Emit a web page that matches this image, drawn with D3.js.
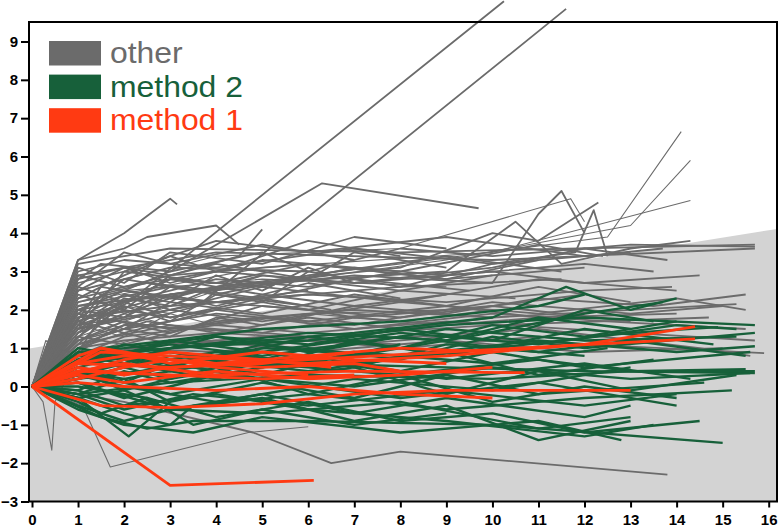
<!DOCTYPE html>
<html>
<head>
<meta charset="utf-8">
<script src="https://cdn.jsdelivr.net/npm/d3@7"></script>
<style>
  body { margin: 0; background: #fff; }
  svg { display: block; }
</style>
</head>
<body>
<svg id="chart" width="781" height="531"></svg>
<script>
// x ticks and y ticks
const xTicks = d3.range(0, 17);
const yTicks = d3.range(-3, 10);

// shaded band: top edge at x = -0.06 and x = 16.18
const shadeTop = [[-0.06, 0.99], [16.18, 4.11]];

// each line is a flat list x0,y0,x1,y1,...
const otherLines = [
  [0,0, 1,1.5, 2.1,2.2, 10.25,10.05],
  [0,0, 1,1.2, 2,1.6, 3.6,2.1, 11.6,9.85],
  [0,0, 1,3.3, 2,4.0, 3,4.9, 3.15,4.75],
  [0,0, 1,2.0, 3,3.0, 6.3,5.3, 9.7,4.65],
  [0,0, 1,3.2, 3,3.6, 8,3.5, 15.7,3.7],
  [0,0, 1,2.9, 4,3.5, 10,3.3, 15.7,3.6],
  [0,0, 1,2.7, 2,3.0, 4,3.8, 6,3.5, 9,3.9, 12,3.4, 13.7,3.6],
  [0,0, 1,1.6, 2,2.4, 3,2.0, 5,2.6, 8,2.2, 11,2.8, 14,2.5],
  [0,0, 1,1.1, 2,1.5, 4,1.9, 7,1.6, 10,2.2, 13,1.9, 15,2.1],
  [0,0, 1,2.4, 2,2.0, 3,2.9, 6,3.2, 9,2.8, 12,3.1],
  [0,0, 1,0.9, 1.5,1.8, 3,1.4, 5,2.1, 8,1.8, 12,2.4],
  [0,0, 1,3.0, 2,3.3, 4,3.1, 7,3.6, 10,3.2, 13,3.5],
  [0,0, 1,1.9, 2,2.8, 4,2.4, 6,2.9, 9,3.4, 11.5,3.0],
  [0,0, 1,1.4, 2,1.9, 3,2.3, 6,2.0, 8,2.5, 10.5,2.3],
  [0,0, 1,2.1, 3,2.6, 5,2.3, 7,2.8, 9.5,2.5],
  [0,0, 1,1.7, 2,2.2, 4,2.8, 6,2.6, 8,3.0],
  [0,0, 1,2.6, 2,3.5, 3,3.2, 5,3.7, 7,3.3],
  [0,0, 1,1.2, 2,1.7, 3,1.5, 5,1.8, 7,1.5, 10,1.9, 12.5,1.7, 15.5,1.5],
  [0,0, 1,0.8, 2,1.3, 4,1.6, 6,1.4, 9,1.7, 13,1.4, 15.7,1.2],
  [0,0, 1,1.5, 3,2.0, 5,1.7, 8,2.2, 11,1.9, 14,2.3, 15.5,2.0],
  [0,0, 1,2.3, 2,2.6, 4,3.0, 7,2.7, 10,3.1, 12,3.6, 13.8,3.3],
  [0,0, 1,1.0, 2,1.2, 4,1.4, 7,1.2, 11,1.5, 14.5,1.0, 15.6,0.8],
  [0,0, 1,1.8, 3,2.1, 6,2.4, 9,2.2, 12,2.5, 13.9,2.6],
  [0,0, 1,1.3, 2,1.1, 4,1.7, 7,2.0, 10,1.8, 13,2.0, 15.3,2.15],
  [0,0, 1,0.7, 3,1.2, 6,1.0, 9,1.3, 12,1.1, 15.9,0.87],
  [0,0, 1,1.1, 3,1.6, 6,1.3, 10,1.6, 14.7,1.8],
  [0,0, 1,2.0, 2,1.8, 3,2.4, 4,2.1, 6,2.7, 8,2.3],
  [0,0, 1,2.8, 2,3.1, 3,2.7, 5,3.3, 8,3.0, 11,3.7, 12.4,3.4],
  [0,0, 1,1.6, 2,2.0, 3,1.8, 5,2.3, 6.5,2.0],
  [0,0, 1,2.2, 2,2.5, 4,2.2, 6,2.5],
  [0,0, 1,1.4, 2,2.3, 3,2.1, 4,2.6],
  [0,0, 1,2.5, 2,3.1, 3,2.9, 4.5,3.4, 5,4.1],
  [0,0, 1,3.3, 2,3.6, 2.5,3.9, 4,4.2, 4.5,3.7],
  [0,0, 1,1.7, 3,2.4, 7,2.9, 10,2.7, 11,4.5, 11.5,5.1, 12,4.0],
  [0,0, 1,2.0, 4,2.6, 8,3.1, 10,4.0, 11,3.8, 12.3,4.8],
  [0,0, 1,1.2, 2,1.5, 3,1.3, 4,1.8, 5,1.6, 7,2.1, 9,1.9, 11,2.3, 13.5,2.1, 15.5,2.4],
  [0,0, 1,2.5, 3,3.1, 6,3.0, 8,3.6, 10,3.4, 13,3.7, 15.7,3.65],
  [0,0, 1,0.6, 2,1.0, 4,0.9, 6,1.2, 8,1.1],
  [0,0, 1,1.0, 2,1.6, 5,1.4, 7,1.8, 9,1.6, 12,1.9],
  [0,0, 1,1.9, 2,1.5, 3,2.2, 5,1.9, 7,2.4, 9,2.1, 11,2.6, 13,2.2],
  [0,0, 1,2.9, 2,2.6, 4,3.2, 6,2.8, 7,3.5, 9,3.1],
  [0,0, 1,1.5, 2,1.8, 3,2.6, 5,2.2, 6,3.0, 8,2.6, 11.5,2.8],
  [0,0, 1,2.3, 2,2.9, 3,3.4, 4,3.0, 6,3.8, 8,3.4],
  [0,0, 1,1.3, 2,2.1, 3,1.7, 4,2.4, 6,2.1],
  [0,0, 1,3.1, 2,2.7, 3,3.5, 5,3.2, 7,3.9, 9,3.6],
  [0,0, 1,1.8, 2,2.4, 3,2.2, 4,2.9, 5,2.5, 6,3.1, 7,2.7, 10,3.0, 12,2.7, 14.5,2.9],
  [0,0, 1,2.6, 2,2.2, 3,2.8, 5,2.6, 7,3.1, 9,2.9, 12,3.2, 13.5,3.0],
  [0,0, 1,1.6, 4,2.2, 8,2.6, 10,3.2, 11.8,3.5, 12.2,4.6, 12.5,3.4],
  [0,0, 1,2.1, 5,2.7, 9,3.0, 10.5,4.3, 11.5,3.2, 13,3.6, 14.3,3.8],
  [0,0, 2,-0.4, 4.8,-1.2, 6.5,-2.0, 8,-1.7, 13.8,-2.3],
  [0,0, 1.5,2.6, 3,2.3, 5,2.9, 8,2.5, 10,2.9],
  [0,0, 2,3.0, 4,2.7, 6,3.2, 9,2.8, 11,3.3],
  [0,0, 1.5,1.9, 3,2.8, 5,2.4, 7,2.1, 9,2.4],
  [0,0, 2,2.2, 3,1.8, 5,2.2, 7,1.8, 10,2.1, 13,1.7],
  [0,0, 1,1.0, 2,1.4, 3,1.1, 5,1.3, 8,1.0, 11,1.3, 13,1.1],
  [0,0, 1,0.8, 2,1.0, 4,1.2, 6,0.9, 9,1.2, 12,0.9, 15,1.0],
  [0,0, 1.5,2.4, 2.5,2.7, 4,2.5, 5,2.9],
  [0,0, 1,1.7, 2,1.4, 4,2.0, 6,1.7, 9,2.1, 11,1.8, 14,1.9],
  [0,0, 1,2.8, 1.5,3.2, 3,3.0, 5,3.5, 6,3.0],
  [0,0, 1.5,1.3, 2.5,1.7, 4,1.4, 6,1.8, 8,1.5, 10,1.8]
];

const otherThin = [
  [0,0, 1,1.8, 4,2.6, 8,3.2, 12.5,3.9, 14.1,6.65],
  [0,0, 1,1.3, 4,2.5, 9,3.3, 13,4.2, 14.3,5.9],
  [0,0, 1,2.2, 5,3.1, 10,3.5, 14.3,4.85],
  [0,0, 1,2.5, 4,3.4, 8,3.6, 11.7,4.9, 12,4.3],
  [0,0, 0.24,-0.4, 0.43,-1.66, 0.5,-0.4, 1,0.8, 3,1.5, 6,1.9, 9,2.0],
  [0,0, 1.1,-0.5, 1.7,-2.1, 4.7,-1.2, 6,-1.05],
  [0,0, 0.3,1.2, 0.6,0.9, 1,2.0, 2,2.5, 5,2.8, 9,2.6],
  [0,0, 0.6,0.9, 1,1.6, 2,1.3, 3,1.9, 4,1.6, 6,1.9, 8,1.7, 10,2.0],
  [0,0, 0.35,1.2, 0.7,0.7, 1,1.4, 2,1.9, 3,1.6],
  [0,0, 0.5,1.0, 1,1.9, 2,2.1, 3,1.9]
];

const method2Lines = [
  [0,0, 1,-0.3, 2.1,-1.3, 3,-0.4],
  [0,0, 1.5,-0.8, 2.5,-1.1, 3.5,-0.9, 6,-0.9, 10,-1.0, 15,-1.47],
  [0,0, 1,0.6, 2,0.9, 4,1.1, 7,1.4, 10,1.8, 11.6,2.6, 13,2.0, 14,2.3],
  [0,0, 1,0.7, 3,1.0, 6,1.2, 9,1.6, 12,1.8, 15.7,1.6],
  [0,0, 1,0.2, 3,0.5, 6,0.6, 9,0.5, 12,0.4, 15.7,0.35],
  [0,0, 1,-0.2, 3,0.1, 6,0.3, 10,0.2, 13,0.4, 15.5,0.45],
  [0,0, 1,0.5, 2,0.3, 4,0.8, 7,0.6, 10,1.0, 13,1.4, 14.9,1.55],
  [0,0, 1,-0.5, 2,-0.9, 3,-0.6, 5,-0.7, 8,-0.4, 11,-1.1, 13,-0.8],
  [0,0, 1,0.9, 2,0.7, 4,1.3, 6,0.9, 9,1.5, 12,1.2, 15.3,1.3],
  [0,0, 1,0.4, 3,-0.2, 5,0.2, 8,-0.3, 11,0.1, 14,-0.5],
  [0,0, 1,-0.1, 2,-0.5, 4,-0.2, 6,-0.6, 9,-0.9, 12,-1.3, 13.5,-1.0],
  [0,0, 1.5,1.0, 3,1.2, 5,1.5, 8,1.7, 11,2.1, 12,2.4],
  [0,0, 1,0.8, 3,0.6, 5,1.0, 8,0.8, 11,1.2, 14,0.9, 15.7,1.05],
  [0,0, 1,0.3, 2,0.7, 3,0.4, 5,0.9, 7,0.5, 9,1.1, 12,0.8],
  [0,0, 1,-0.3, 2,-0.7, 3,-1.0, 3.5,-0.5, 6,-0.2, 9,-0.6, 12,-0.3, 15.2,-0.1],
  [0,0, 1,0.1, 2,-0.3, 4,0.3, 7,0.0, 10,0.5, 13,0.2, 15.6,0.35],
  [0,0, 1,0.6, 2,1.1, 4,0.7, 6,1.3, 8,1.0, 10,1.6, 12,1.3, 14,1.7],
  [0,0, 1,-0.6, 2,-1.0, 3.5,-1.2, 5,-0.8, 8,-1.2, 11,-0.9, 12.8,-1.4],
  [0,0, 1,0.2, 3,0.8, 6,0.4, 9,0.9, 11,0.3, 13.5,0.7],
  [0,0, 1,0.7, 2,0.5, 4,0.9, 6,0.6, 8,1.1],
  [0,0, 1,-0.2, 2,0.2, 3,-0.4, 5,0.1, 7,-0.3, 9,0.3, 11,-0.2, 14.6,0.1],
  [0,0, 1.5,0.9, 3,0.5, 5,1.1, 7,0.8, 9.5,1.3, 12,1.9, 13.7,2.2],
  [0,0, 1,0.4, 2,-0.1, 4,0.5, 6,-0.2, 8,0.3, 10,-0.4, 12,0.0, 14,-0.3],
  [0,0, 1,0.1, 3,-0.6, 5,-0.3, 7,-0.9, 9,-0.5, 11,-1.4, 13,-0.9],
  [0,0, 1,0.5, 2,0.8, 4,0.4, 6,1.0, 8,0.7, 10,1.3, 12,1.0, 15.7,1.4],
  [0,0, 1,0.8, 2,0.6, 3,1.0, 6,1.4, 9,1.2, 11,1.8, 13,1.5],
  [0,0, 1,-0.4, 1.5,-0.7, 2.5,-0.3, 4,-0.8, 6,-0.4, 8,-0.9, 10,-0.7, 12,-1.2, 14.5,-0.9],
  [0,0, 1,0.3, 2,0.0, 4,-0.4, 7,0.2, 10,-0.1, 13,0.5],
  [0,0, 1,1.0, 2,0.8, 3,1.2, 5,0.9, 8,1.4, 11,1.1, 14,1.6, 15.3,1.5],
  [0,0, 1,0.0, 2.5,-0.3, 3.5,-1.0, 5,-0.6, 7,-1.0, 9,-0.7],
  [0,0, 1,0.2, 2,0.5, 3,0.2, 5,0.6, 8,0.3, 11,0.7, 13,0.4, 15.7,0.4],
  [0,0, 1,0.6, 3,0.9, 5,0.5, 7,1.2, 9,0.8, 12,1.5, 14.8,1.1],
  [0,0, 1,-0.1, 2,0.4, 3,0.1, 6,0.7, 9,0.2, 12,0.6, 14.3,0.2],
  [0,0, 1,0.4, 2,0.2, 4,0.6, 5,0.3, 7,0.9, 10,0.6, 12.5,1.0],
  [0,0, 1,-0.3, 2,-0.1, 3,-0.6, 5,-0.2, 7,-0.7, 9,-0.3, 12,-0.8, 13,-0.5],
  [0,0, 1,0.9, 2,1.0, 4,1.3, 6,1.1, 8,1.5, 10,1.2, 12,2.0, 13.5,1.7],
  [0,0, 1,0.5, 2,0.1, 3,0.6, 5,0.2, 7,0.5, 9,-0.2, 11,0.4, 13,-0.1, 15.3,0.3],
  [0,0, 1,-0.2, 2,-0.6, 3.5,-0.2, 6,-0.5, 9,-0.1, 12,-0.5, 14,-0.2],
  [0,0, 1,0.7, 3,1.1, 5,0.8, 8,1.3, 11,0.9, 13,1.2, 15.5,0.8],
  [0,0, 1,0.3, 2,0.6, 4,0.2, 6,0.8, 8,0.4, 10,0.9, 12,0.5, 15.6,0.9]
];

const method1Lines = [
  [0,0, 3,-2.58, 6.12,-2.45],
  [0,0, 1.5,-0.5, 3,-0.55, 5,-0.45, 7,-0.2, 9,-0.1, 13,-0.1],
  [0,0, 1.5,0.9, 3,0.8, 6,0.6, 9,0.8, 12,1.1, 14.4,1.56],
  [0,0, 1,0.6, 3,0.5, 6,0.7, 9,0.9, 14.4,1.24],
  [0,0, 1,0.4, 2,0.6, 4,0.3, 7,0.4, 10.7,0.36],
  [0,0, 1,0.2, 2,0.5, 3,0.7, 5,0.5, 7,0.6, 8,0.4],
  [0,0, 1,0.8, 1.5,1.0, 3,0.6, 5,0.9, 7,0.7, 9,0.6],
  [0,0, 1,0.3, 2,0.1, 4,0.4, 6,0.2, 8,0.3, 10,0.5],
  [0,0, 2,0.7, 3,0.9, 5,0.7, 6.5,0.5],
  [0,0, 1,0.5, 2,0.3, 3,0.5, 5,0.6, 7,0.9],
  [0,0, 1,0.1, 2,0.0, 4,-0.1, 6,0.0, 8,-0.2, 10,-0.3],
  [0,0, 1,0.6, 2,0.8, 4,0.6, 6,0.8, 8,1.0, 10,0.9],
  [0,0, 1.5,1.0, 2,0.9, 4,0.5, 6,0.3],
  [0,0, 1,0.4, 3,0.3, 5,0.2, 7,0.3]
];

const legendItems = ["other", "method 2", "method 1"];

const colors = { other: "#6b6b6b", method2: "#17603a", method1: "#ff3a12" };

const svg = d3.select("#chart");

// frame edges in pixels
const frame = { left: 29, right: 777, top: 22, bottom: 501.5 };

const xScale = d3.scaleLinear().domain([0, 16]).range([32, 768.7]);
const yScale = d3.scaleLinear().domain([-3, 9]).range([501.5, 41.5]);

const toPoints = (arr) => d3.range(0, arr.length, 2).map((i) => [arr[i], arr[i + 1]]);

const line = d3
  .line()
  .x((d) => xScale(d[0]))
  .y((d) => yScale(d[1]));

// shaded region below the sloping edge
const xl = xScale.invert(frame.left);
const xr = xScale.invert(frame.right);
const yb = yScale.invert(frame.bottom);
svg
  .append("path")
  .attr("d", line([shadeTop[0], shadeTop[1], [xr, yb], [xl, yb]]) + "Z")
  .attr("fill", "#d3d3d3");

// series
const drawSet = (lines, color, w, cls) => {
  svg
    .append("g")
    .attr("class", cls)
    .selectAll("path")
    .data(lines.map(toPoints))
    .join("path")
    .attr("d", line)
    .attr("fill", "none")
    .attr("stroke", color)
    .attr("stroke-width", w)
    .attr("stroke-linejoin", "round");
};

drawSet(otherThin, colors.other, 1.1, "other-thin");
drawSet(otherLines, colors.other, 1.8, "other");
drawSet(method2Lines, colors.method2, 2.4, "method2");
drawSet(method1Lines, colors.method1, 2.8, "method1");

// frame
svg
  .append("rect")
  .attr("x", frame.left)
  .attr("y", frame.top)
  .attr("width", frame.right - frame.left)
  .attr("height", frame.bottom - frame.top)
  .attr("fill", "none")
  .attr("stroke", "#000")
  .attr("stroke-width", 2);

// axes
const yAxis = d3.axisLeft(yScale).tickValues(yTicks).tickSize(8).tickPadding(3);
const xAxis = d3.axisBottom(xScale).tickValues(xTicks).tickSize(6).tickPadding(7);

const gy = svg
  .append("g")
  .attr("transform", "translate(" + frame.left + ",0)")
  .call(yAxis);
const gx = svg
  .append("g")
  .attr("transform", "translate(0," + frame.bottom + ")")
  .call(xAxis);

[gx, gy].forEach((g) => {
  g.select(".domain").remove();
  g.selectAll(".tick line").attr("stroke", "#000").attr("stroke-width", 2);
  g.selectAll(".tick text")
    .attr("fill", "#000")
    .style("font-family", "'Liberation Sans', Arial, sans-serif")
    .style("font-weight", "bold")
    .style("font-size", "15px");
});

// legend
const legendColors = [colors.other, colors.method2, colors.method1];
const lg = svg
  .append("g")
  .selectAll("g")
  .data(legendItems)
  .join("g")
  .attr("transform", (d, i) => "translate(49," + (41 + i * 33.6) + ")");

lg.append("rect")
  .attr("width", 52)
  .attr("height", 24.5)
  .attr("fill", (d, i) => legendColors[i]);

lg.append("text")
  .attr("transform", "translate(61,22) scale(1.1,1)")
  .attr("fill", (d, i) => legendColors[i])
  .style("font-family", "'Liberation Sans', Arial, sans-serif")
  .style("font-size", "29px")
  .text((d) => d);
</script>
</body>
</html>
